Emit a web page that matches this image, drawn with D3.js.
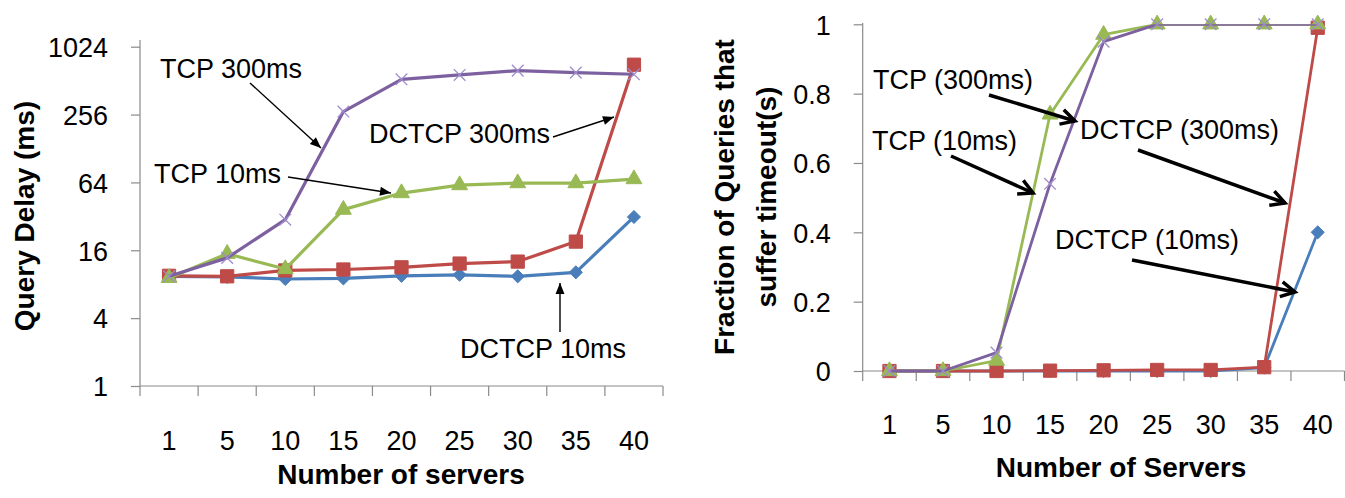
<!DOCTYPE html>
<html>
<head>
<meta charset="utf-8">
<script src="https://cdn.jsdelivr.net/npm/d3@7"></script>
<style>
  html, body { margin: 0; padding: 0; background: #fff; }
  svg { display: block; font-family: "Liberation Sans", Arial, sans-serif; }
  .tick text { fill: #000; }
</style>
</head>
<body>
<svg id="chart" width="1345" height="498"></svg>
<script>
// Number of servers (shared x categories)
const categories = [1, 5, 10, 15, 20, 25, 30, 35, 40];

// Query delay in ms (log2 axis)
const delayDctcp10  = [9.4, 9.3, 8.9, 9.0, 9.5, 9.7, 9.4, 10.2, 31.6];
const delayDctcp300 = [9.5, 9.4, 10.6, 10.8, 11.3, 12.2, 12.7, 19.1, 709];
const delayTcp10    = [9.1, 14.9, 10.9, 36.7, 51.5, 60.6, 63.1, 63.1, 68.5];
const delayTcp300   = [9.4, 13.7, 29.9, 272, 526, 575, 628, 603, 583];
const delayTicks    = [1, 4, 16, 64, 256, 1024];

// Fraction of queries that suffer at least one timeout
const timeoutDctcp10  = [0, 0, 0, 0, 0, 0, 0, 0.01, 0.40];
const timeoutDctcp300 = [0, 0, 0, 0.001, 0.002, 0.003, 0.003, 0.011, 0.99];
const timeoutTcp10    = [0, 0, 0.03, 0.74, 0.97, 1, 1, 1, 1];
const timeoutTcp300   = [0, 0, 0.053, 0.54, 0.95, 1, 1, 1, 1];
const fractionTicks   = [0, 0.2, 0.4, 0.6, 0.8, 1];

const COLORS = { blue: "#4A7EBB", red: "#BE4B48", green: "#98B954", purple: "#7D60A0" };
const AXIS = "#8A8A8A";

const svg = d3.select("#chart");

// arrowheads
const defs = svg.append("defs");
defs.append("marker")
  .attr("id", "headFilled").attr("markerUnits", "userSpaceOnUse")
  .attr("viewBox", "-12 -6 14 12").attr("refX", 0).attr("refY", 0)
  .attr("markerWidth", 14).attr("markerHeight", 12).attr("orient", "auto")
  .append("path").attr("d", "M0,0 L-11,-4.5 L-11,4.5 Z").attr("fill", "#000");
defs.append("marker")
  .attr("id", "headOpen").attr("markerUnits", "userSpaceOnUse")
  .attr("viewBox", "-18 -10 22 20").attr("refX", 0).attr("refY", 0)
  .attr("markerWidth", 22).attr("markerHeight", 20).attr("orient", "auto")
  .append("path").attr("d", "M-14,-7.5 L0,0 L-14,7.5")
  .attr("fill", "none").attr("stroke", "#000").attr("stroke-width", 3.5)
  .attr("stroke-linejoin", "miter").attr("stroke-linecap", "butt");
defs.append("clipPath").attr("id", "rightClip")
  .append("rect").attr("x", 840).attr("y", 24.3).attr("width", 520).attr("height", 420);

const seriesStyle = [
  { key: "dctcp10",  color: COLORS.blue,   symbol: d3.symbolDiamond2, size: 110, fill: COLORS.blue,  stroke: COLORS.blue },
  { key: "dctcp300", color: COLORS.red,    symbol: d3.symbolSquare,   size: 175, fill: COLORS.red,   stroke: COLORS.red },
  { key: "tcp10",    color: COLORS.green,  symbol: d3.symbolTriangle, size: 110, fill: COLORS.green, stroke: COLORS.green },
  { key: "tcp300",   color: COLORS.purple, symbol: d3.symbolTimes,    size: 90,  fill: "none",       stroke: "#9F8CCB" }
];

function drawSeries(g, x, y, values, style, lineWidth, clip) {
  const pts = categories.map((c, i) => ({ c, v: values[i] }));
  const line = d3.line().x(d => x(d.c) + x.bandwidth() / 2).y(d => y(d.v));
  const grp = g.append("g");
  const path = grp.append("path").datum(pts)
    .attr("d", line).attr("fill", "none")
    .attr("stroke", style.color).attr("stroke-width", lineWidth)
    .attr("stroke-linejoin", "round");
  if (clip) path.attr("clip-path", "url(#" + clip + ")");
  grp.selectAll("path.mk").data(pts).join("path")
    .attr("class", "mk")
    .attr("transform", d => `translate(${x(d.c) + x.bandwidth() / 2},${y(d.v)})`)
    .attr("d", d3.symbol(style.symbol, style.size))
    .attr("fill", style.fill)
    .attr("stroke", style.stroke)
    .attr("stroke-width", style.key === "tcp300" ? 1.3 : 1);
}

function drawCategoryAxis(g, x, axisY, labelDy) {
  // axis line with boundary ticks
  const [x0, x1] = x.range();
  g.append("line").attr("x1", x0).attr("x2", x1).attr("y1", axisY).attr("y2", axisY)
    .attr("stroke", AXIS).attr("stroke-width", 1.2);
  const bounds = categories.map(c => x(c)).concat([x1]);
  g.selectAll("line.bt").data(bounds).join("line").attr("class", "bt")
    .attr("x1", d => d).attr("x2", d => d)
    .attr("y1", axisY).attr("y2", axisY + 10)
    .attr("stroke", AXIS).attr("stroke-width", 1.2);
  const ax = g.append("g").attr("transform", `translate(0,${axisY})`)
    .call(d3.axisBottom(x).tickSize(0).tickFormat(d => String(d)));
  ax.select(".domain").remove();
  ax.selectAll("text").attr("y", labelDy).attr("dy", 0)
    .style("font-size", "27px");
}

function drawValueAxis(g, y, axisX, ticks, fmt, top) {
  const [yb] = y.range();
  g.append("line").attr("x1", axisX).attr("x2", axisX).attr("y1", top).attr("y2", yb)
    .attr("stroke", AXIS).attr("stroke-width", 1.2);
  const ax = g.append("g").attr("transform", `translate(${axisX},0)`)
    .call(d3.axisLeft(y).tickValues(ticks).tickSize(9).tickPadding(23).tickFormat(fmt));
  ax.select(".domain").remove();
  ax.selectAll("line").attr("stroke", AXIS).attr("stroke-width", 1.2);
  ax.selectAll("text").style("font-size", "27px").attr("dy", "0.36em");
}

function annotate(g, text, tx, ty, from, to, head, width) {
  g.append("text").attr("x", tx).attr("y", ty).text(text)
    .style("font-size", "27px").attr("fill", "#000");
  g.append("line").attr("x1", from[0]).attr("y1", from[1])
    .attr("x2", to[0]).attr("y2", to[1])
    .attr("stroke", "#000").attr("stroke-width", width)
    .attr("marker-end", `url(#${head})`);
}

// ---------- Left: query delay ----------
{
  const g = svg.append("g");
  const x = d3.scaleBand().domain(categories).range([140, 663]);
  const y = d3.scaleLog().base(2).domain([1, 1024]).range([386, 46.7]);

  drawValueAxis(g, y, 140, delayTicks, d3.format("d"), 40);
  drawCategoryAxis(g, x, 386, 64);

  const vals = [delayDctcp10, delayDctcp300, delayTcp10, delayTcp300];
  seriesStyle.forEach((s, i) => drawSeries(g, x, y, vals[i], s, 3.2));

  annotate(g, "TCP 300ms", 160, 78, [250, 83], [321, 148], "headFilled", 1.4);
  annotate(g, "DCTCP 300ms", 369, 143, [553, 137], [614, 117], "headFilled", 1.4);
  annotate(g, "TCP 10ms", 154, 183, [288, 177], [391, 193], "headFilled", 1.4);
  annotate(g, "DCTCP 10ms", 460, 358, [560, 332], [560, 283], "headFilled", 1.4);

  g.append("text")
    .attr("transform", "translate(34,216) rotate(-90)")
    .attr("text-anchor", "middle")
    .style("font-size", "28px").style("font-weight", "bold")
    .text("Query Delay (ms)");
  g.append("text").attr("x", 401).attr("y", 484)
    .attr("text-anchor", "middle")
    .style("font-size", "28px").style("font-weight", "bold")
    .text("Number of servers");
}

// ---------- Right: fraction of queries with timeouts ----------
{
  const g = svg.append("g");
  const x = d3.scaleBand().domain(categories).range([862.7, 1344.5]);
  const y = d3.scaleLinear().domain([0, 1]).range([371, 24.3]);

  drawValueAxis(g, y, 862.7, fractionTicks, d => (d === 0 || d === 1) ? String(d) : d.toFixed(1), 23);
  drawCategoryAxis(g, x, 371, 63);

  const vals = [timeoutDctcp10, timeoutDctcp300, timeoutTcp10, timeoutTcp300];
  seriesStyle.forEach((s, i) => drawSeries(g, x, y, vals[i], s, 2.8, "rightClip"));

  annotate(g, "TCP (300ms)", 873, 89, [989, 95], [1075, 121], "headOpen", 3.5);
  annotate(g, "TCP (10ms)", 872, 150, [951, 156], [1033, 193], "headOpen", 3.5);
  annotate(g, "DCTCP (300ms)", 1080, 139, [1138, 150], [1285, 203], "headOpen", 3.5);
  annotate(g, "DCTCP (10ms)", 1055, 249, [1132, 260], [1295, 292], "headOpen", 3.5);

  const title = g.append("text")
    .attr("transform", "translate(734,197) rotate(-90)")
    .attr("text-anchor", "middle")
    .style("font-size", "28px").style("font-weight", "bold");
  title.append("tspan").attr("x", 0).attr("dy", 0).text("Fraction of Queries that");
  title.append("tspan").attr("x", 0).attr("dy", 42).text("suffer timeout(s)");
  g.append("text").attr("x", 1121).attr("y", 477)
    .attr("text-anchor", "middle")
    .style("font-size", "28px").style("font-weight", "bold")
    .text("Number of Servers");
}
</script>
</body>
</html>
